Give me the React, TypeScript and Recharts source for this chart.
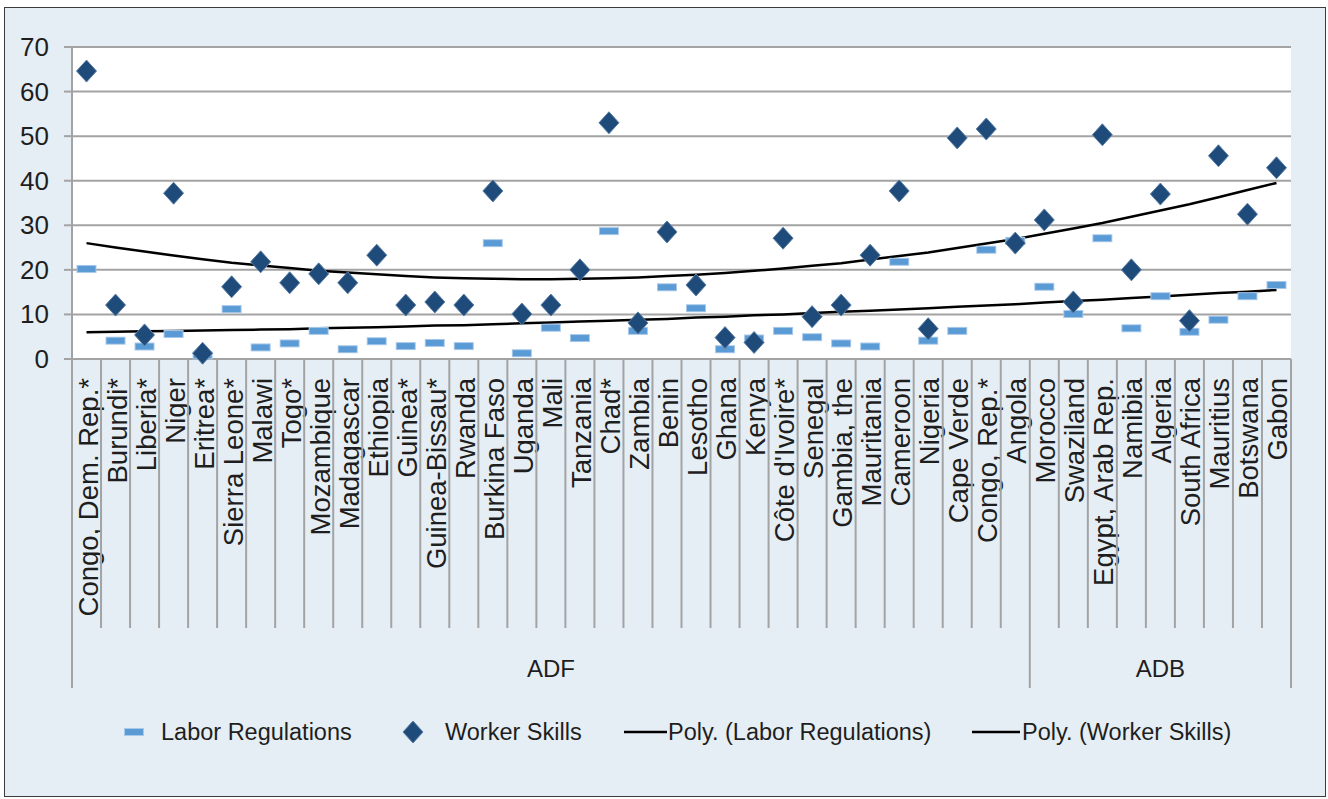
import React from "react";
import { ComposedChart, Scatter, Line, XAxis, YAxis, CartesianGrid } from "recharts";

const categories = [
  "Congo, Dem. Rep.*", "Burundi*", "Liberia*", "Niger", "Eritrea*", "Sierra Leone*", "Malawi", "Togo*",
  "Mozambique", "Madagascar", "Ethiopia", "Guinea*", "Guinea-Bissau*", "Rwanda", "Burkina Faso", "Uganda",
  "Mali", "Tanzania", "Chad*", "Zambia", "Benin", "Lesotho", "Ghana", "Kenya", "Côte d'Ivoire*", "Senegal",
  "Gambia, the", "Mauritania", "Cameroon", "Nigeria", "Cape Verde", "Congo, Rep.*", "Angola",
  "Morocco", "Swaziland", "Egypt, Arab Rep.", "Namibia", "Algeria", "South Africa", "Mauritius", "Botswana", "Gabon",
];

const laborRegulations = [
  20.2, 4.1, 2.8, 5.6, 0.8, 11.2, 2.6, 3.5, 6.3, 2.2, 4.0, 2.9, 3.6, 2.9, 26.0, 1.3, 7.0, 4.7, 28.7, 6.3, 16.1,
  11.4, 2.2, 4.6, 6.3, 4.9, 3.5, 2.8, 21.8, 4.1, 6.3, 24.5, 26.5, 16.2, 10.1, 27.1, 6.9, 14.1, 6.1, 8.8, 14.1, 16.6,
];

const workerSkills = [
  64.6, 12.1, 5.4, 37.2, 1.3, 16.2, 21.8, 17.1, 19.1, 17.1, 23.3, 12.1, 12.8, 12.1, 37.7, 10.1, 12.1, 20.0, 53.0,
  8.1, 28.5, 16.6, 4.8, 3.7, 27.1, 9.5, 12.1, 23.3, 37.7, 6.8, 49.6, 51.6, 26.0, 31.2, 12.8, 50.3, 20.0, 37.0, 8.6,
  45.6, 32.5, 42.9,
];

// trend lines
const laborPoly = [
  6.0, 6.1, 6.2, 6.3, 6.4, 6.5, 6.6, 6.7, 6.9, 7.0, 7.1, 7.3, 7.5, 7.6, 7.8, 8.0, 8.2, 8.4, 8.6, 8.8, 9.0,
  9.3, 9.5, 9.8, 10.0, 10.3, 10.6, 10.8, 11.1, 11.4, 11.7, 12.0, 12.3, 12.7, 13.0, 13.3, 13.7, 14.0, 14.4, 14.8, 15.1, 15.5,
];

const skillsPoly = [
  26.0, 25.0, 24.1, 23.2, 22.4, 21.6, 21.0, 20.4, 19.8, 19.4, 19.0, 18.6, 18.3, 18.1, 18.0, 17.9, 17.9, 18.0, 18.1,
  18.3, 18.6, 18.9, 19.3, 19.8, 20.3, 20.9, 21.5, 22.3, 23.1, 23.9, 24.9, 25.9, 26.9, 28.1, 29.3, 30.5, 31.9, 33.3,
  34.7, 36.3, 37.9, 39.5,
];

const yTicks = [0, 10, 20, 30, 40, 50, 60, 70];

const groups = [
  { label: "ADF", size: 33 },
  { label: "ADB", size: 9 },
];

const data = categories.map((name, i) => ({
  name,
  labor: laborRegulations[i],
  skills: workerSkills[i],
  laborPoly: laborPoly[i],
  skillsPoly: skillsPoly[i],
}));

const FONT = "'Liberation Sans', Arial, sans-serif";
const TEXT = "#1e1e1e";
const GRID = "#a3a3a3";
const DARK = "#1f4b7b";
const LIGHT = "#5b9bd5";

const W = 1328;
const H = 799;
const PLOT_LEFT = 72;
const PLOT_RIGHT = 1291;
const BAND = (PLOT_RIGHT - PLOT_LEFT) / categories.length;

// group start indexes
const groupStarts = groups.reduce<number[]>((acc, g, i) => {
  acc.push(i === 0 ? 0 : acc[i - 1] + groups[i - 1].size);
  return acc;
}, []);

function DashShape({ cx, cy }: any) {
  if (cx == null || cy == null) return null;
  return (
    <g>
      <rect x={cx - 10} y={cy - 4} width={20} height={8} fill="#a9c9ea" />
      <rect x={cx - 9} y={cy - 3} width={18} height={6} fill={LIGHT} />
    </g>
  );
}

function DiamondShape({ cx, cy }: any) {
  if (cx == null || cy == null) return null;
  return (
    <polygon
      points={`${cx},${cy - 11} ${cx + 10},${cy} ${cx},${cy + 11} ${cx - 10},${cy}`}
      fill={DARK}
      stroke="#5a7ea5"
      strokeWidth={1}
    />
  );
}

function YTick({ y, payload }: any) {
  return (
    <text x={49} y={y + 9} textAnchor="end" fontFamily={FONT} fontSize={26} fill={TEXT}>
      {payload.value}
    </text>
  );
}

function CatTick({ x, payload, index }: any) {
  const i = payload?.index ?? index;
  const top = 359;
  const left = x - BAND / 2;
  const isGroupStart = groupStarts.includes(i);
  const gi = groupStarts.indexOf(i);
  const isLast = i === categories.length - 1;
  return (
    <g>
      <line x1={left} y1={top} x2={left} y2={isGroupStart ? 688 : 628} stroke={GRID} strokeWidth={2} />
      {isLast && <line x1={x + BAND / 2} y1={top} x2={x + BAND / 2} y2={688} stroke={GRID} strokeWidth={2} />}
      <text
        transform={`translate(${x + 11},378) rotate(-90)`}
        textAnchor="end"
        fontFamily={FONT}
        fontSize={27.5}
        fill={TEXT}
      >
        {payload.value}
      </text>
      {gi >= 0 && (
        <text
          x={left + (groups[gi].size * BAND) / 2}
          y={677}
          textAnchor="middle"
          fontFamily={FONT}
          fontSize={24}
          fill={TEXT}
        >
          {groups[gi].label}
        </text>
      )}
    </g>
  );
}

const legendText: React.CSSProperties = {
  position: "absolute",
  top: 718,
  fontFamily: FONT,
  fontSize: 23.5,
  color: TEXT,
  whiteSpace: "nowrap",
  lineHeight: "28px",
};

export default function App() {
  return (
    <div style={{ position: "absolute", left: 0, top: 0, width: W, height: H, overflow: "hidden" }}>
      <div
        style={{
          position: "absolute",
          left: 4,
          top: 7,
          width: 1320,
          height: 788,
          background: "#e6eef5",
          border: "1.5px solid #3c3c3c",
        }}
      />
      <div style={{ position: "absolute", left: 0, top: 0 }}>
        <ComposedChart width={W} height={H} data={data} margin={{ top: 47, right: W - PLOT_RIGHT, left: 12, bottom: 110 }}>
          <CartesianGrid vertical={false} stroke={GRID} strokeWidth={2} fill="#ffffff" fillOpacity={1} />
          <XAxis
            dataKey="name"
            interval={0}
            height={330}
            padding={{ left: BAND / 2, right: BAND / 2 }}
            tickLine={false}
            axisLine={{ stroke: GRID, strokeWidth: 2 }}
            tick={(p: any) => <CatTick {...p} />}
          />
          <YAxis
            width={60}
            domain={[0, 70]}
            ticks={yTicks}
            interval={0}
            tickSize={8}
            axisLine={{ stroke: GRID, strokeWidth: 2 }}
            tickLine={{ stroke: GRID, strokeWidth: 2 }}
            tick={(p: any) => <YTick {...p} />}
          />
          <Scatter dataKey="labor" shape={(p: any) => <DashShape {...p} />} isAnimationActive={false} />
          <Scatter dataKey="skills" shape={(p: any) => <DiamondShape {...p} />} isAnimationActive={false} />
          <Line dataKey="laborPoly" type="linear" stroke="#000" strokeWidth={2.5} dot={false} isAnimationActive={false} />
          <Line dataKey="skillsPoly" type="linear" stroke="#000" strokeWidth={2.5} dot={false} isAnimationActive={false} />
        </ComposedChart>
      </div>

      {/* legend */}
      <svg style={{ position: "absolute", left: 0, top: 0 }} width={W} height={H} pointerEvents="none">
        <DashShape cx={134} cy={732} />
        <DiamondShape cx={413} cy={732} />
        <line x1={624} y1={732} x2={667} y2={732} stroke="#000" strokeWidth={2.5} />
        <line x1={972} y1={732} x2={1020} y2={732} stroke="#000" strokeWidth={2.5} />
      </svg>
      <div style={{ ...legendText, left: 161 }}>Labor Regulations</div>
      <div style={{ ...legendText, left: 445 }}>Worker Skills</div>
      <div style={{ ...legendText, left: 668 }}>Poly. (Labor Regulations)</div>
      <div style={{ ...legendText, left: 1022 }}>Poly. (Worker Skills)</div>
    </div>
  );
}
